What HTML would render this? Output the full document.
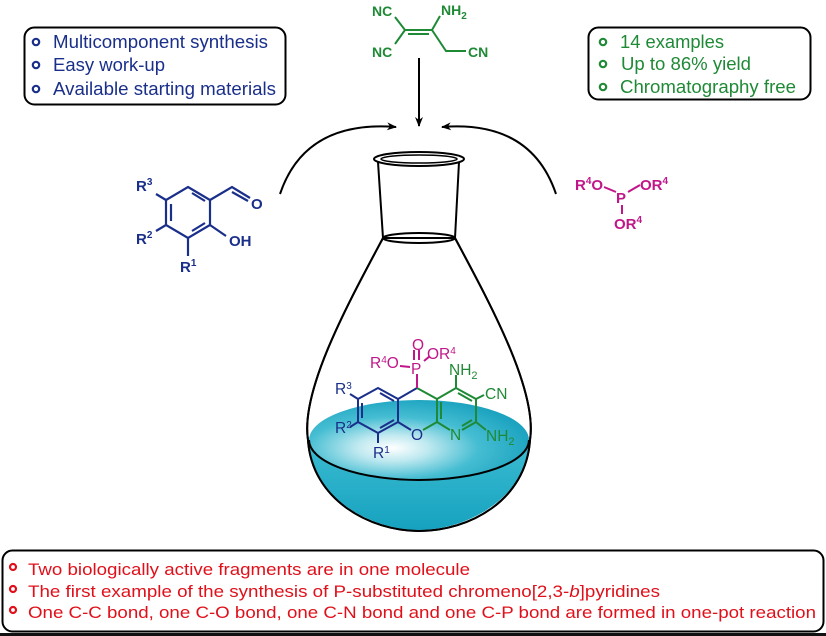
<!DOCTYPE html>
<html><head><meta charset="utf-8"><style>
html,body{margin:0;padding:0;background:#fff;}
svg{display:block;font-family:"Liberation Sans",Arial,sans-serif;}
</style></head><body>
<svg width="826" height="636" viewBox="0 0 826 636" xmlns="http://www.w3.org/2000/svg">
<defs>
<radialGradient id="liq" cx="0.38" cy="0.6" r="0.65">
<stop offset="0" stop-color="#ffffff"/>
<stop offset="0.25" stop-color="#bfe9f0"/>
<stop offset="0.6" stop-color="#45bdd2"/>
<stop offset="1" stop-color="#1aa2bf"/>
</radialGradient>
<linearGradient id="bowl" x1="0" y1="0" x2="0" y2="1">
<stop offset="0" stop-color="#3cbcd2"/>
<stop offset="1" stop-color="#16a2bf"/>
</linearGradient>
<marker id="ah" markerWidth="10" markerHeight="8" refX="9" refY="4" orient="auto" markerUnits="userSpaceOnUse">
<path d="M0,0 L10,4 L0,8 L3,4 Z" fill="#000"/>
</marker>
</defs>

<!-- top-left box -->
<rect x="24.5" y="27.5" width="261" height="77" rx="10" fill="#fff" stroke="#000" stroke-width="2"/>
<g fill="none" stroke="#1a2f8a" stroke-width="2.2">
<circle cx="36" cy="42" r="3.2"/><circle cx="36" cy="65" r="3.2"/><circle cx="36" cy="89" r="3.2"/>
</g>
<g fill="#1a2f8a" font-size="18">
<text x="53" y="48" textLength="215" lengthAdjust="spacingAndGlyphs">Multicomponent synthesis</text>
<text x="53" y="71" textLength="112" lengthAdjust="spacingAndGlyphs">Easy work-up</text>
<text x="53" y="95" textLength="223" lengthAdjust="spacingAndGlyphs">Available starting materials</text>
</g>

<!-- top-right box -->
<rect x="588.5" y="27.5" width="222" height="72" rx="10" fill="#fff" stroke="#000" stroke-width="2"/>
<g fill="none" stroke="#1f8a36" stroke-width="2.2">
<circle cx="603" cy="42" r="3.2"/><circle cx="603" cy="64" r="3.2"/><circle cx="603" cy="87" r="3.2"/>
</g>
<g fill="#1f8a36" font-size="18">
<text x="620" y="48" textLength="104" lengthAdjust="spacingAndGlyphs">14 examples</text>
<text x="621" y="70" textLength="130" lengthAdjust="spacingAndGlyphs">Up to 86% yield</text>
<text x="620" y="93" textLength="176" lengthAdjust="spacingAndGlyphs">Chromatography free</text>
</g>

<!-- bottom box -->
<rect x="2.5" y="550.5" width="821" height="81" rx="10" fill="#fff" stroke="#000" stroke-width="2"/>
<rect x="0" y="633" width="826" height="3" fill="#111"/>
<g fill="none" stroke="#e0101a" stroke-width="2.2">
<circle cx="13" cy="567" r="3"/><circle cx="13" cy="589" r="3"/><circle cx="13" cy="610" r="3"/>
</g>
<g fill="#e0101a" font-size="17">
<text x="28" y="575" textLength="442" lengthAdjust="spacingAndGlyphs">Two biologically active fragments are in one molecule</text>
<text x="28" y="597" textLength="632" lengthAdjust="spacingAndGlyphs">The first example of the synthesis of P-substituted chromeno[2,3-<tspan font-style="italic">b</tspan>]pyridines</text>
<text x="28" y="618" textLength="788" lengthAdjust="spacingAndGlyphs">One C-C bond, one C-O bond, one C-N bond and one C-P bond are formed in one-pot reaction</text>
</g>

<!-- arrows -->
<line x1="419" y1="58" x2="419" y2="126" stroke="#000" stroke-width="2" marker-end="url(#ah)"/>
<path d="M280,194 Q305,120 396,127" fill="none" stroke="#000" stroke-width="2" marker-end="url(#ah)"/>
<path d="M556,194 Q531,120 442,127" fill="none" stroke="#000" stroke-width="2" marker-end="url(#ah)"/>

<!-- flask -->
<path d="M383,238 C350,300 300,390 308,440 C312,500 370,531 419,531 C470,531 526,500 530,440 C538,390 488,300 455,238 Z" fill="#fff" stroke="#000" stroke-width="2"/>
<path d="M309,440 A110,40 0 0 0 529,440 C528,495 470,530 419,530 C368,530 310,495 309,440 Z" fill="url(#bowl)"/>
<ellipse cx="419" cy="440" rx="110" ry="40" fill="url(#liq)"/>
<path d="M309,440 A110,40 0 0 0 529,440" fill="none" stroke="#000" stroke-width="2"/>
<path d="M383,238 C350,300 300,390 308,440 C312,500 370,531 419,531 C470,531 526,500 530,440 C538,390 488,300 455,238" fill="none" stroke="#000" stroke-width="2"/>
<path d="M378,162 L383,238 M459,162 L455,238" stroke="#000" stroke-width="2" fill="none"/>
<ellipse cx="419" cy="238" rx="36" ry="5" fill="none" stroke="#000" stroke-width="2"/>
<ellipse cx="419" cy="159" rx="45" ry="7" fill="#fff" stroke="#000" stroke-width="2"/>
<ellipse cx="419" cy="159" rx="38" ry="4" fill="none" stroke="#000" stroke-width="1.5"/>

<!-- malononitrile dimer -->
<g stroke="#1f8a36" stroke-width="2" fill="none">
<path d="M395,17 L405,30 L395,44 M405,30 L432,30 L440,16 M432,30 L446,51 L466,51 M408,34 L429,34"/>
</g>
<g fill="#1f8a36" font-size="14" font-weight="bold">
<text x="372" y="16">NC</text>
<text x="441" y="15">NH<tspan font-size="10" dy="4">2</tspan></text>
<text x="372" y="57">NC</text>
<text x="468" y="57">CN</text>
</g>

<!-- salicylaldehyde -->
<g stroke="#1a2f8a" stroke-width="2.2" fill="none">
<path d="M188,187 L210,200 L210,225 L188,238 L166,225 L166,200 Z"/>
<path d="M192,193 L205,201 M205,223 L192,231 M171,204 L171,221"/>
<path d="M210,200 L232,187 L250,198 M232,192 L248,201 M210,225 L226,236 M188,238 L188,256 M166,225 L156,231 M166,200 L156,194"/>
</g>
<g fill="#1a2f8a" font-size="15" font-weight="bold">
<text x="251" y="209">O</text>
<text x="229" y="246">OH</text>
<text x="136" y="191">R<tspan font-size="10" dy="-6">3</tspan></text>
<text x="136" y="244">R<tspan font-size="10" dy="-6">2</tspan></text>
<text x="180" y="272">R<tspan font-size="10" dy="-6">1</tspan></text>
</g>

<!-- phosphite -->
<g stroke="#c0168a" stroke-width="2">
<path d="M604,187 L616,192 M628,192 L640,185 M622,205 L622,214"/>
</g>
<g fill="#c0168a" font-size="15" font-weight="bold">
<text x="575" y="190">R<tspan font-size="10" dy="-6">4</tspan><tspan dy="6">O</tspan></text>
<text x="616" y="203">P</text>
<text x="640" y="190">OR<tspan font-size="10" dy="-6">4</tspan></text>
<text x="614" y="229">OR<tspan font-size="10" dy="-6">4</tspan></text>
</g>

<!-- product -->
<g stroke="#1a2f8a" stroke-width="2" fill="none">
<path d="M378,388 L398,399 L398,422 L378,433 L358,422 L358,399 Z"/>
<path d="M380,393 L394,401 M394,420 L380,428 M362,403 L362,418"/>
<path d="M358,399 L350,394 M358,422 L350,427 M378,433 L378,443 M398,399 L417,388 M398,422 L411,430"/>
</g>
<g stroke="#1f8a36" stroke-width="2" fill="none">
<path d="M417,388 L437,399 L437,422 M437,399 L456,388 L476,399 L476,422 L462,430 M437,422 L450,430 M441,402 L441,419 M458,393 L472,401 M472,420 L462,426 M456,388 L456,375 M476,399 L484,395 M476,422 L486,430"/>
</g>
<path d="M423,430 L437,422" stroke="#1f8a36" stroke-width="2"/>
<g stroke="#c0168a" stroke-width="2">
<path d="M417,388 L417,374 M414,350 L414,360 M419,350 L419,360 M400,366 L410,367 M424,361 L430,356"/>
</g>
<g font-size="15.5">
<text x="411" y="440" fill="#1a2f8a">O</text>
<text x="450" y="440" fill="#1f8a36">N</text>
<text x="486" y="441" fill="#1f8a36">NH<tspan font-size="11" dy="4">2</tspan></text>
<text x="449" y="375" fill="#1f8a36">NH<tspan font-size="11" dy="4">2</tspan></text>
<text x="485" y="399" fill="#1f8a36">CN</text>
<text x="335" y="394" fill="#1a2f8a">R<tspan font-size="10" dy="-5">3</tspan></text>
<text x="335" y="433" fill="#1a2f8a">R<tspan font-size="10" dy="-5">2</tspan></text>
<text x="373" y="458" fill="#1a2f8a">R<tspan font-size="10" dy="-5">1</tspan></text>
<text x="411" y="374" fill="#c0168a">P</text>
<text x="412" y="350" fill="#c0168a">O</text>
<text x="370" y="368" fill="#c0168a">R<tspan font-size="10" dy="-5">4</tspan><tspan dy="5">O</tspan></text>
<text x="427" y="359" fill="#c0168a">OR<tspan font-size="10" dy="-5">4</tspan></text>
</g>
</svg>
</body></html>
